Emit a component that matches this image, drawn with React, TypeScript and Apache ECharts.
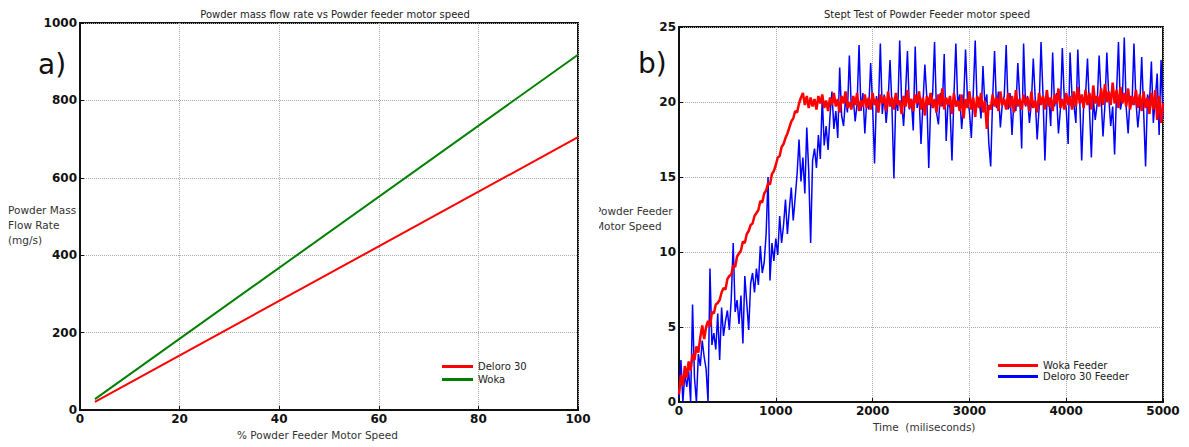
import React, { useEffect, useRef } from "react";
import * as echarts from "echarts";

// ---- Panel a) : powder mass flow rate vs motor speed ----
const motorSpeedPct = [3, 100];
const deloroFlow = [21, 705];
const wokaFlow = [28, 918];

// ---- Panel b) : step test, sampled every 20 ms ----
const SAMPLE_MS = 20;
const wokaSpeed = [
  0.5, 1.8, 1.1, 2.4, 1.6, 2.7, 2.1, 3.2, 2.8, 3.7,
  3.3, 4.3, 5.1, 4.2, 5.0, 5.4, 5.0, 6.0, 5.9, 6.5,
  6.6, 6.8, 7.3, 7.6, 7.5, 8.2, 8.4, 8.5, 9.1, 9.0,
  9.7, 9.9, 10.1, 10.7, 10.6, 11.2, 11.4, 11.8, 11.9, 12.4,
  12.6, 12.8, 13.4, 13.3, 13.9, 14.1, 14.6, 14.5, 15.2, 15.4,
  15.8, 16.3, 16.4, 17.0, 17.2, 17.6, 17.9, 18.3, 18.7, 18.9,
  19.4, 19.3, 19.9, 20.3, 20.6, 19.8, 20.4, 19.6, 20.3, 19.7,
  20.2, 19.5, 20.4, 19.9, 20.5, 19.6, 20.1, 19.4, 20.3, 19.8,
  20.6, 19.7, 20.2, 19.3, 20.4, 19.9, 20.7, 19.6, 20.0, 19.5,
  20.4, 19.8, 20.6, 19.4, 20.1, 19.7, 20.5, 19.6, 20.3, 19.5,
  20.6, 19.8, 20.2, 19.3, 20.5, 19.9, 20.4, 19.4, 20.7, 19.7,
  20.3, 19.5, 20.6, 19.8, 20.1, 19.2, 20.4, 19.7, 20.8, 19.6,
  20.2, 19.4, 20.5, 19.9, 20.7, 19.5, 20.3, 19.1, 20.4, 19.8,
  20.6, 19.6, 20.2, 19.3, 20.5, 19.7, 20.9, 19.5, 20.3, 19.8,
  20.4, 19.2, 20.6, 19.7, 20.1, 19.4, 20.5, 18.9, 20.2, 19.6,
  20.7, 19.5, 20.3, 19.0, 20.4, 19.6, 20.6, 19.3, 20.1, 18.2,
  19.8, 19.5, 20.5, 19.7, 20.3, 19.4, 20.7, 19.8, 20.2, 19.5,
  20.6, 19.6, 20.4, 19.3, 20.8, 19.7, 20.2, 19.5, 20.5, 19.8,
  20.3, 19.4, 20.7, 19.6, 20.1, 19.3, 20.6, 19.8, 20.4, 19.5,
  20.8, 19.7, 20.3, 19.4, 20.5, 19.9, 20.9, 19.6, 20.2, 19.5,
  20.6, 19.8, 20.4, 19.5, 20.7, 19.7, 21.0, 19.9, 20.5, 19.6,
  20.8, 19.8, 20.6, 19.5, 21.1, 19.9, 20.4, 19.7, 20.9, 19.8,
  21.2, 20.0, 20.7, 19.8, 21.3, 19.9, 20.8, 19.6, 21.0, 19.9,
  20.6, 19.7, 20.9, 19.5, 20.4, 19.8, 20.8, 19.6, 20.5, 19.4,
  20.7, 19.6, 20.3, 19.2, 20.6, 19.5, 20.8, 18.8, 20.4, 18.6,
  19.9,
];
const deloroSpeed = [
  0.3, 2.8, 0.0, 1.9, 1.0, 2.1, 0.0, 6.5, 1.6, 0.0,
  3.2, 2.4, 4.1, 3.0, 2.2, 0.0, 8.9, 3.8, 4.6, 3.5,
  5.9, 2.8, 6.3, 4.4, 5.4, 6.1, 4.8, 6.9, 10.6, 6.0,
  6.8, 5.2, 7.1, 3.9, 8.4, 6.6, 4.8, 7.9, 8.6, 7.3,
  8.9, 7.8, 10.4, 8.6, 9.3, 11.2, 15.0, 8.1, 10.6, 9.4,
  10.9, 9.8, 12.4, 10.6, 11.8, 13.5, 11.2, 12.9, 14.3, 12.1,
  13.6, 15.2, 17.5, 14.7, 16.3, 13.9, 18.3, 15.4, 10.6, 16.1,
  16.9, 15.6, 17.8, 16.2, 20.3, 17.1, 18.4, 16.8, 19.1, 20.7,
  18.2, 19.4, 17.6, 22.3, 19.1, 18.4, 20.2, 19.3, 23.1, 19.6,
  20.3, 18.7, 19.9, 23.8, 19.4, 20.6, 17.9, 20.2, 19.5, 22.6,
  19.8, 15.9, 20.4, 19.6, 23.9, 19.2, 20.5, 18.6, 20.1, 22.8,
  19.7, 14.9, 20.3, 19.4, 24.1, 20.0, 18.4, 20.6, 23.4, 19.5,
  20.2, 18.1, 23.7, 19.6, 20.4, 17.2, 19.9, 22.5, 20.3, 15.6,
  19.8, 20.5, 24.0, 19.3, 18.5, 20.6, 19.7, 23.2, 17.4, 20.1,
  19.6, 16.1, 20.4, 23.9, 19.8, 20.5, 18.2, 19.9, 23.5, 20.2,
  19.4, 17.6, 20.6, 24.1, 19.7, 20.3, 18.9, 22.4, 19.8, 20.5,
  17.3, 15.7, 20.2, 23.4, 19.6, 20.7, 18.3, 19.9, 20.4, 23.8,
  19.5, 20.6, 17.8, 20.1, 19.4, 22.6, 20.3, 16.9, 23.9, 19.7,
  20.4, 18.6, 19.9, 22.9, 20.2, 17.5, 19.6, 24.0, 20.5, 16.1,
  19.8, 20.3, 18.4, 23.3, 19.7, 20.6, 17.9, 19.5, 23.6, 20.2,
  19.6, 17.2, 23.3, 20.4, 19.8, 18.6, 23.5, 20.1, 16.1, 19.7,
  20.5, 22.9, 19.6, 16.3, 20.2, 18.8, 19.9, 23.1, 20.4, 17.7,
  19.8, 23.3, 20.3, 18.4, 19.7, 16.5, 20.6, 24.0, 19.5, 20.2,
  24.3, 19.6, 17.9, 20.4, 19.8, 23.9, 20.1, 18.3, 19.7, 23.0,
  19.4, 15.7, 20.5, 19.9, 22.7, 18.6, 20.2, 21.9, 17.8, 22.8,
  18.9,
];

const FONT = "'DejaVu Sans', sans-serif";

export default function App() {
  const ref = useRef<HTMLDivElement>(null);
  useEffect(() => {
    if (!ref.current) return;
    const chart = echarts.init(ref.current, undefined, { renderer: "svg" });
    const pairs = (vals: number[]) => vals.map((v, i) => [i * SAMPLE_MS, v]);
    const axisCommon = {
      axisLine: { show: true, lineStyle: { color: "#111", width: 2 } },
      axisTick: { show: true, inside: true, length: 4, lineStyle: { color: "#111" } },
      axisLabel: {
        fontFamily: FONT, fontSize: 12, fontWeight: "bold" as const, color: "#111", margin: 3,
        formatter: (v: number) => String(v),
      },
      splitLine: { show: true, lineStyle: { type: "dotted" as const, color: "#aaa", width: 1 } },
    };
    chart.setOption({
      animation: false,
      backgroundColor: "#fff",
      title: [
        {
          text: "Powder mass flow rate vs Powder feeder motor speed",
          left: 330, top: 4, textAlign: "center",
          textStyle: { fontFamily: FONT, fontSize: 10, fontWeight: "normal", color: "#222" },
        },
        {
          text: "Stept Test of Powder Feeder motor speed",
          left: 922, top: 4, textAlign: "center",
          textStyle: { fontFamily: FONT, fontSize: 10, fontWeight: "normal", color: "#222" },
        },
      ],
      grid: [
        { left: 80, top: 23, width: 498, height: 387, show: true, borderColor: "#111", borderWidth: 2 },
        { left: 679, top: 27, width: 484, height: 375, show: true, borderColor: "#111", borderWidth: 2 },
      ],
      xAxis: [
        { type: "value", gridIndex: 0, min: 0, max: 100, interval: 20, ...axisCommon },
        { type: "value", gridIndex: 1, min: 0, max: 5000, interval: 1000, ...axisCommon },
      ],
      yAxis: [
        { type: "value", gridIndex: 0, min: 0, max: 1000, interval: 200, ...axisCommon },
        { type: "value", gridIndex: 1, min: 0, max: 25, interval: 5, ...axisCommon },
      ],
      legend: [
        {
          data: ["Deloro 30", "Woka"], orient: "vertical", left: 437, top: 356,
          icon: "rect", itemWidth: 31, itemHeight: 3, itemGap: 2,
          textStyle: { fontFamily: FONT, fontSize: 10, color: "#222", lineHeight: 11 },
        },
        {
          data: ["Woka Feeder", "Deloro 30 Feeder"], orient: "vertical", left: 993, top: 355,
          icon: "rect", itemWidth: 40, itemHeight: 3, itemGap: 0,
          textStyle: { fontFamily: FONT, fontSize: 10, color: "#222", lineHeight: 11 },
        },
      ],
      series: [
        {
          name: "Deloro 30", type: "line", xAxisIndex: 0, yAxisIndex: 0, showSymbol: false,
          color: "#ff0000", lineStyle: { width: 2 },
          data: motorSpeedPct.map((x, i) => [x, deloroFlow[i]]),
        },
        {
          name: "Woka", type: "line", xAxisIndex: 0, yAxisIndex: 0, showSymbol: false,
          color: "#008000", lineStyle: { width: 2 },
          data: motorSpeedPct.map((x, i) => [x, wokaFlow[i]]),
        },
        {
          name: "Deloro 30 Feeder", type: "line", xAxisIndex: 1, yAxisIndex: 1, showSymbol: false,
          color: "#0000ff", lineStyle: { width: 1.5 },
          data: pairs(deloroSpeed),
        },
        {
          name: "Woka Feeder", type: "line", xAxisIndex: 1, yAxisIndex: 1, showSymbol: false,
          color: "#ff0000", lineStyle: { width: 2.5 },
          data: pairs(wokaSpeed),
        },
      ],
      graphic: [
        { type: "text", left: 38, top: 50, style: { text: "a)", font: `28px ${FONT}`, fill: "#111" } },
        { type: "text", left: 638, top: 49, style: { text: "b)", font: `28px ${FONT}`, fill: "#111" } },
        {
          type: "text", left: 8, top: 202,
          style: { text: "Powder Mass\nFlow Rate\n(mg/s)", font: `10.5px ${FONT}`, lineHeight: 15, fill: "#333" },
        },
        {
          type: "text", left: 595, top: 203,
          style: { text: "Powder Feeder\nMotor Speed", font: `10.5px ${FONT}`, lineHeight: 15, fill: "#333" },
        },
        { type: "rect", shape: { x: 585, y: 195, width: 14, height: 40 }, style: { fill: "#fff" }, z: 100 },
        {
          type: "text", left: 237, top: 429,
          style: { text: "% Powder Feeder Motor Speed", font: `10.5px ${FONT}`, fill: "#333" },
        },
        {
          type: "text", left: 873, top: 421,
          style: { text: "Time  (miliseconds)", font: `10.5px ${FONT}`, fill: "#333" },
        },
      ],
    });
    return () => chart.dispose();
  }, []);
  return <div ref={ref} style={{ position: "fixed", left: 0, top: 0, width: 1189, height: 447 }} />;
}
